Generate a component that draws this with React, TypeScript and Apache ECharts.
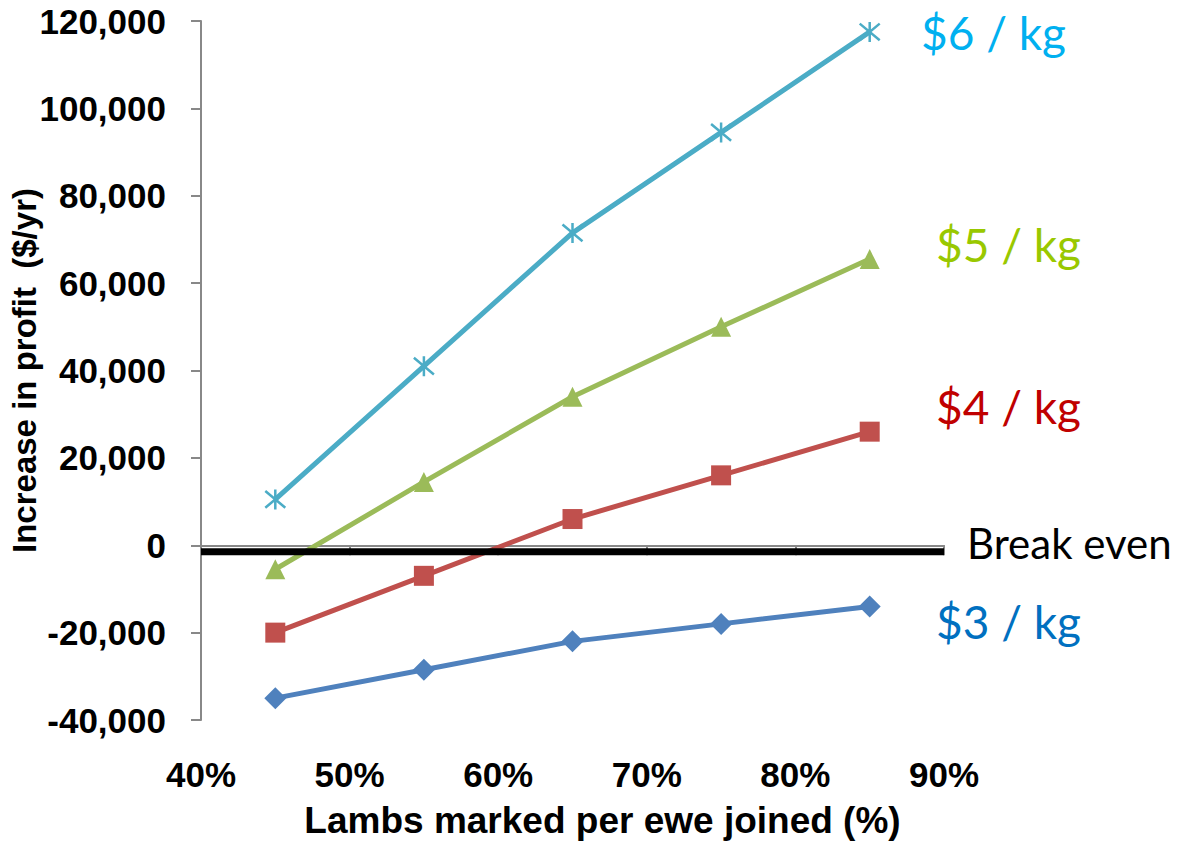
import React, { useEffect, useRef } from "react";
import * as echarts from "echarts";

const xValues = [45, 55, 65, 75, 85];
const price6 = [10500, 41000, 71500, 94500, 117500];
const price5 = [-5500, 14500, 34000, 50000, 65500];
const price4 = [-20000, -7000, 6000, 16000, 26000];
const price3 = [-35000, -28500, -22000, -18000, -14000];
const breakEvenX = [40, 90];
const breakEvenValue = -1500;
const xTicks = { min: 40, max: 90, interval: 10 };
const yTicks = { min: -40000, max: 120000, interval: 20000 };
const seriesNames = ["$6 / kg", "$5 / kg", "$4 / kg", "$3 / kg"];

const asterisk = "path://M0,0L20,20M20,0L0,20M10,-2L10,22";

export default function App() {
  const ref = useRef<HTMLDivElement>(null);
  useEffect(() => {
    const chart = echarts.init(ref.current!, null, { renderer: "svg" });
    const pairs = (ys: number[]) => xValues.map((x, i) => [x, ys[i]]);
    const axisFont = { fontFamily: "Liberation Sans", fontWeight: "bold" as const, fontSize: 35, color: "#000" };
    const lineSeries = (name: string, ys: number[], color: string, symbol: string, size: number, extra: any = {}) => ({
      name,
      type: "line",
      data: pairs(ys),
      symbol,
      symbolSize: size,
      lineStyle: { color, width: 5 },
      itemStyle: { color },
      z: 3,
      ...extra,
    });
    chart.setOption({
      animation: false,
      backgroundColor: "#fff",
      grid: { left: 201, right: 240, top: 21, bottom: 126, containLabel: false, outerBoundsMode: "none" },
      xAxis: {
        type: "value",
        ...xTicks,
        axisLine: { show: true, lineStyle: { color: "#888", width: 2 } },
        axisTick: { show: true, length: 10, lineStyle: { color: "#888", width: 2 } },
        splitLine: { show: false },
        axisLabel: { ...axisFont, margin: 37, formatter: (v: number) => v + "%" },
        name: "Lambs marked per ewe joined (%)",
        nameLocation: "middle",
        nameGap: 82,
        nameMoveOverlap: false,
        nameTextStyle: {
          fontFamily: "Liberation Sans",
          fontWeight: "bold",
          fontSize: 37,
          color: "#000",
          padding: [0, 0, 0, 60],
        },
      },
      yAxis: {
        type: "value",
        ...yTicks,
        axisLine: { show: true, onZero: false, lineStyle: { color: "#888", width: 2 } },
        axisTick: { show: true, length: 10, lineStyle: { color: "#888", width: 2 } },
        splitLine: { show: false },
        axisLabel: {
          ...axisFont,
          margin: 35,
          formatter: (v: number) => v.toLocaleString("en-US"),
        },
        name: "Increase in profit  ($/yr)",
        nameLocation: "middle",
        nameGap: 160,
        nameMoveOverlap: false,
        nameTextStyle: { fontFamily: "Liberation Sans", fontWeight: "bold", fontSize: 33, color: "#000" },
      },
      series: [
        {
          name: "Break even",
          type: "line",
          data: breakEvenX.map((x) => [x, breakEvenValue]),
          symbol: "none",
          lineStyle: { color: "#000", width: 7 },
          z: 4,
        },
        lineSeries(seriesNames[0], price6, "#4BACC6", asterisk, 20, {
          itemStyle: { color: "transparent", borderColor: "#4BACC6", borderWidth: 2.5 },
        }),
        lineSeries(seriesNames[1], price5, "#9BBB59", "triangle", 20),
        lineSeries(seriesNames[2], price4, "#C0504D", "rect", 20),
        lineSeries(seriesNames[3], price3, "#4F81BD", "diamond", 22),
      ],
      graphic: [
        { type: "text", left: 921, top: 9, style: { text: seriesNames[0], fill: "#00B0F0", font: "46px Lato" } },
        { type: "text", left: 936, top: 221, style: { text: seriesNames[1], fill: "#99C800", font: "46px Lato" } },
        { type: "text", left: 936, top: 383, style: { text: seriesNames[2], fill: "#C00000", font: "46px Lato" } },
        { type: "text", left: 936, top: 598, style: { text: seriesNames[3], fill: "#0070C0", font: "46px Lato" } },
        { type: "text", left: 967, top: 522, style: { text: "Break even", fill: "#000", font: "42px Lato" } },
      ],
    });
    return () => chart.dispose();
  }, []);
  return <div ref={ref} style={{ position: "fixed", left: 0, top: 0, width: 1184, height: 846 }} />;
}
